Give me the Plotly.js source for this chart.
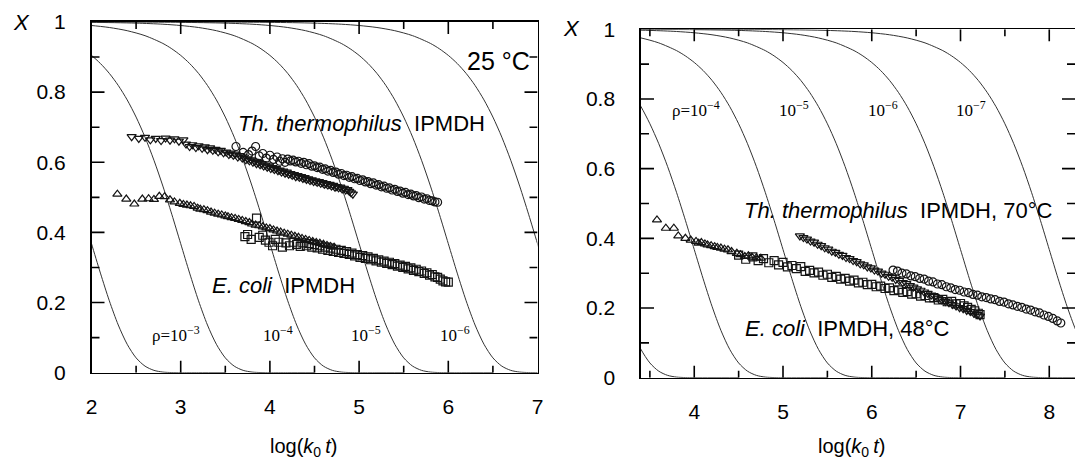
<!DOCTYPE html>
<html>
<head>
<meta charset="utf-8">
<script src="https://cdn.plot.ly/plotly-3.0.1.min.js"></script>
<style>
html,body{margin:0;padding:0;background:#fff;}
#chart{width:1075px;height:463px;}
</style>
</head>
<body>
<div id="chart"></div>
<script>
// ---------- theoretical curve shape: X vs d = log(k0 t) + log(rho) ----------
const curveD = [-4,-3.5,-3,-2.5,-2.2,-2,-1.8,-1.6,-1.4,-1.2,-1.1,-1.0,-0.9,-0.8,-0.7,-0.6,-0.5,-0.4,-0.3,-0.2,-0.1,0,0.1,0.2,0.3,0.4,0.5,0.6,0.7,0.8,0.9,1.0,1.2,1.5];
const curveX = [0.9999,0.9997,0.9990,0.9968,0.9937,0.9900,0.9843,0.9752,0.9610,0.9389,0.9236,0.9048,0.8817,0.8534,0.8191,0.7779,0.7289,0.6716,0.6058,0.5321,0.4519,0.3679,0.2840,0.2050,0.1360,0.0811,0.0423,0.0187,0.0067,0.0018,0.0004,0.0000,0,0];
const logRhoLeft  = [-2,-3,-4,-5,-6,-7];
const logRhoRight = [-3,-4,-5,-6,-7,-8];

// ---------- left panel (25 °C) ----------
const thA_u = [2.45,2.53,2.60,2.66,2.72,2.78,2.83,2.88,2.93,2.98,3.03,3.06,3.10,3.13,3.17,3.20,3.24,3.27,3.30,3.33,3.36,3.39,3.42,3.45,3.48,3.51,3.54,3.56,3.59,3.61,3.64,3.66,3.69,3.71,3.73,3.75,3.77,3.79,3.81,3.83,3.85,3.87,3.89,3.91,3.93,3.95,3.97,3.99,4.01,4.03,4.05,4.07,4.09,4.11,4.13,4.15,4.17,4.19,4.21,4.23,4.25,4.27,4.29,4.31,4.33,4.35,4.37,4.39,4.41,4.43,4.45,4.47,4.49,4.51,4.53,4.55,4.57,4.59,4.61,4.63,4.65,4.67,4.69,4.71,4.73,4.75,4.77,4.79,4.81,4.83,4.85,4.87,4.89,4.91,4.93];
const thA_x = [0.673,0.668,0.671,0.664,0.668,0.662,0.669,0.663,0.667,0.660,0.664,0.652,0.645,0.650,0.642,0.647,0.640,0.644,0.636,0.641,0.634,0.637,0.630,0.634,0.627,0.629,0.622,0.626,0.620,0.623,0.615,0.619,0.612,0.615,0.607,0.610,0.604,0.607,0.600,0.603,0.596,0.599,0.593,0.596,0.589,0.592,0.586,0.589,0.582,0.585,0.579,0.582,0.576,0.578,0.572,0.575,0.569,0.572,0.566,0.568,0.563,0.565,0.559,0.562,0.557,0.559,0.554,0.556,0.551,0.553,0.548,0.550,0.545,0.547,0.543,0.545,0.540,0.542,0.537,0.539,0.535,0.537,0.532,0.534,0.529,0.531,0.527,0.529,0.524,0.526,0.521,0.522,0.517,0.513,0.509];
const thB_u = [3.62,3.70,3.76,3.80,3.84,3.88,3.92,3.96,4.00,4.04,4.08,4.11,4.14,4.17,4.20,4.23,4.26,4.29,4.32,4.35,4.38,4.41,4.44,4.47,4.50,4.53,4.56,4.59,4.62,4.65,4.68,4.71,4.74,4.77,4.80,4.83,4.86,4.89,4.92,4.95,4.98,5.01,5.04,5.07,5.10,5.13,5.16,5.19,5.22,5.25,5.28,5.31,5.34,5.37,5.40,5.43,5.46,5.49,5.52,5.55,5.58,5.61,5.64,5.67,5.70,5.73,5.76,5.79,5.82,5.85,5.88];
const thB_x = [0.645,0.628,0.622,0.632,0.645,0.618,0.625,0.612,0.620,0.608,0.615,0.603,0.610,0.600,0.609,0.604,0.606,0.601,0.603,0.597,0.600,0.593,0.596,0.589,0.590,0.585,0.586,0.580,0.581,0.575,0.577,0.571,0.572,0.566,0.568,0.562,0.563,0.557,0.559,0.553,0.554,0.548,0.550,0.544,0.545,0.539,0.541,0.535,0.536,0.530,0.532,0.526,0.527,0.521,0.523,0.517,0.518,0.512,0.514,0.508,0.509,0.504,0.505,0.499,0.501,0.495,0.496,0.491,0.490,0.487,0.486];
const ecA_u = [2.29,2.39,2.48,2.57,2.64,2.70,2.76,2.82,2.88,2.93,2.99,3.03,3.07,3.11,3.15,3.19,3.22,3.26,3.30,3.34,3.38,3.42,3.46,3.50,3.53,3.57,3.61,3.65,3.69,3.73,3.77,3.80,3.84,3.88,3.92,3.96,4.00,4.04,4.08,4.12,4.16,4.20,4.24,4.28,4.32,4.36,4.40,4.44,4.48,4.52,4.56,4.60,4.64,4.68,4.72];
const ecA_x = [0.509,0.495,0.481,0.495,0.496,0.494,0.503,0.502,0.493,0.487,0.483,0.480,0.478,0.476,0.474,0.469,0.466,0.465,0.462,0.458,0.455,0.452,0.450,0.447,0.445,0.442,0.440,0.437,0.434,0.431,0.428,0.424,0.421,0.419,0.416,0.413,0.411,0.407,0.404,0.401,0.398,0.395,0.392,0.389,0.386,0.383,0.380,0.377,0.374,0.371,0.369,0.366,0.363,0.360,0.358];
const ecB_u = [3.72,3.75,3.79,3.85,3.88,3.92,3.95,3.99,4.03,4.06,4.10,4.14,4.18,4.22,4.26,4.30,4.34,4.37,4.41,4.44,4.47,4.50,4.53,4.56,4.59,4.62,4.65,4.68,4.71,4.74,4.77,4.80,4.83,4.86,4.89,4.92,4.95,4.98,5.01,5.04,5.07,5.10,5.13,5.16,5.19,5.22,5.25,5.28,5.31,5.34,5.37,5.40,5.43,5.46,5.49,5.52,5.55,5.58,5.61,5.64,5.67,5.70,5.73,5.76,5.79,5.82,5.85,5.88,5.91,5.94,5.97,6.00];
const ecB_x = [0.388,0.394,0.380,0.441,0.386,0.392,0.378,0.372,0.362,0.380,0.372,0.358,0.370,0.362,0.372,0.366,0.360,0.370,0.362,0.368,0.358,0.365,0.356,0.362,0.352,0.358,0.349,0.355,0.346,0.352,0.343,0.349,0.340,0.345,0.337,0.341,0.333,0.337,0.329,0.334,0.326,0.330,0.322,0.326,0.319,0.322,0.315,0.318,0.312,0.315,0.308,0.311,0.304,0.307,0.300,0.303,0.296,0.299,0.292,0.295,0.288,0.290,0.283,0.285,0.278,0.280,0.273,0.272,0.267,0.262,0.259,0.258];

// ---------- right panel ----------
const ecC_u = [3.58,3.68,3.77,3.82,3.90,3.96,4.02,4.05,4.08,4.12,4.15,4.19,4.23,4.26,4.30,4.34,4.38,4.42,4.48,4.52,4.57,4.61,4.65,4.70,4.75];
const ecC_x = [0.453,0.429,0.429,0.407,0.400,0.395,0.391,0.386,0.388,0.384,0.381,0.379,0.376,0.374,0.372,0.369,0.367,0.362,0.357,0.353,0.348,0.350,0.346,0.344,0.343];
const ecD_u = [4.50,4.58,4.66,4.72,4.78,4.84,4.90,4.95,5.00,5.05,5.10,5.15,5.20,5.25,5.30,5.35,5.40,5.45,5.50,5.55,5.60,5.65,5.70,5.75,5.80,5.85,5.90,5.95,6.00,6.05,6.10,6.15,6.20,6.25,6.30,6.35,6.40,6.45,6.50,6.55,6.60,6.65,6.70,6.75,6.80,6.85,6.90,6.95,7.00,7.04,7.08,7.12,7.16,7.20,7.22];
const ecD_x = [0.352,0.340,0.347,0.336,0.342,0.330,0.336,0.324,0.331,0.318,0.322,0.313,0.319,0.305,0.308,0.301,0.303,0.294,0.297,0.288,0.291,0.283,0.285,0.277,0.280,0.272,0.274,0.267,0.268,0.261,0.263,0.256,0.258,0.250,0.252,0.245,0.247,0.240,0.241,0.234,0.236,0.229,0.230,0.223,0.225,0.218,0.219,0.212,0.213,0.206,0.202,0.196,0.192,0.185,0.181];
const thC_u = [5.19,5.23,5.27,5.31,5.35,5.39,5.43,5.47,5.51,5.55,5.59,5.63,5.67,5.71,5.75,5.79,5.83,5.87,5.91,5.95,5.99,6.03,6.07,6.11,6.15,6.19,6.23,6.27,6.31,6.35,6.39,6.43,6.47,6.51,6.55,6.59,6.63,6.67,6.71,6.75,6.79,6.83,6.87,6.91,6.95,6.99,7.03,7.07,7.11,7.15,7.19,7.22];
const thC_x = [0.407,0.402,0.398,0.392,0.389,0.383,0.379,0.373,0.369,0.363,0.360,0.354,0.351,0.345,0.342,0.336,0.333,0.327,0.324,0.318,0.315,0.309,0.306,0.300,0.297,0.291,0.288,0.282,0.279,0.273,0.270,0.264,0.260,0.255,0.251,0.246,0.242,0.237,0.233,0.228,0.224,0.219,0.215,0.210,0.206,0.201,0.198,0.193,0.190,0.185,0.181,0.177];
const thD_u = [6.24,6.29,6.34,6.39,6.44,6.49,6.54,6.59,6.64,6.69,6.74,6.79,6.84,6.89,6.94,6.99,7.04,7.09,7.14,7.19,7.24,7.29,7.34,7.39,7.44,7.49,7.54,7.59,7.64,7.69,7.74,7.79,7.84,7.89,7.94,7.99,8.04,8.09,8.13];
const thD_x = [0.309,0.306,0.300,0.298,0.292,0.290,0.285,0.283,0.277,0.275,0.269,0.267,0.261,0.258,0.253,0.251,0.246,0.244,0.239,0.237,0.232,0.230,0.226,0.224,0.219,0.217,0.212,0.209,0.205,0.202,0.197,0.194,0.189,0.186,0.180,0.176,0.170,0.163,0.157];

// ---------- tick values and labels ----------
const xMajorLeft  = [2,3,4,5,6,7];
const xMajorRight = [4,5,6,7,8];
const xMinorLeft  = [2.5,3.5,4.5,5.5,6.5];
const xMinorRight = [3.5,4.5,5.5,6.5,7.5];
const yMajor = [0,0.2,0.4,0.6,0.8,1];
const yMajorText = ['0','0.2','0.4','0.6','0.8','1'];
const yMinor = [0.1,0.3,0.5,0.7,0.9];
const rhoLabelsLeft  = ['ρ=10<sup>−3</sup>','10<sup>−4</sup>','10<sup>−5</sup>','10<sup>−6</sup>'];
const rhoLabelsLeftU = [2.66,3.90,4.89,5.88];
const rhoLabelsRight  = ['ρ=10<sup>−4</sup>','10<sup>−5</sup>','10<sup>−6</sup>','10<sup>−7</sup>'];
const rhoLabelsRightU = [3.73,4.93,5.93,6.93];

// ===================================================================
const W = 1075, H = 463;
const INK = '#141414';
const traces = [];

function addCurves(logRhos, xa, ya){
  logRhos.forEach(lr => {
    traces.push({
      x: curveD.map(d => d - lr), y: curveX, xaxis: xa, yaxis: ya,
      mode: 'lines', line: {color: '#333', width: 1, shape: 'spline', smoothing: 0.8},
      hoverinfo: 'skip', showlegend: false
    });
  });
}
addCurves(logRhoLeft, 'x', 'y');
addCurves(logRhoRight, 'x2', 'y2');

function addPts(u, x, sym, xa, ya){
  traces.push({
    x: u, y: x, xaxis: xa, yaxis: ya, mode: 'markers', showlegend: false,
    marker: {symbol: sym, size: 8, color: INK, line: {color: INK, width: 1.2}}
  });
}
addPts(thA_u, thA_x, 'triangle-down-open', 'x', 'y');
addPts(thB_u, thB_x, 'circle-open', 'x', 'y');
addPts(ecA_u, ecA_x, 'triangle-up-open', 'x', 'y');
addPts(ecB_u, ecB_x, 'square-open', 'x', 'y');
addPts(ecC_u, ecC_x, 'triangle-up-open', 'x2', 'y2');
addPts(ecD_u, ecD_x, 'square-open', 'x2', 'y2');
addPts(thC_u, thC_x, 'triangle-down-open', 'x2', 'y2');
addPts(thD_u, thD_x, 'circle-open', 'x2', 'y2');

// ---------- panel geometry (pixels) ----------
const PL = {x0: 91.5, x1: 537.5, yTop: 22, yBot: 372.7, range: [2, 7]};
const PR = {x0: 641, x1: 1075, yTop: 29.3, yBot: 377.7, range: [3.40, 8.29]};

const tickFont = {family: 'Liberation Sans, Arial, sans-serif', size: 21, color: '#000'};
function xMain(P, anchor, vals){
  return {range: P.range, domain: [P.x0/W, P.x1/W], anchor: anchor, showgrid: false, zeroline: false,
    tickmode: 'array', tickvals: vals, ticktext: vals.map(String), ticks: '',
    showline: true, linecolor: '#000', linewidth: 1.7, mirror: true,
    tickfont: tickFont, ticklabelstandoff: 14, fixedrange: true};
}
function yMain(P, anchor){
  return {range: [0, 1], domain: [1 - P.yBot/H, 1 - P.yTop/H], anchor: anchor, showgrid: false, zeroline: false,
    tickmode: 'array', tickvals: yMajor, ticktext: yMajorText, ticks: '',
    showline: true, linecolor: '#000', linewidth: 1.7, mirror: true,
    tickfont: tickFont, ticklabelstandoff: 20, fixedrange: true};
}

// ---------- inward tick marks on all four sides ----------
const shapes = [];
const tickLine = {color: '#000', width: 1.6};
function ticksFor(P, xref, yref, xMaj, xMin, yMaj, yMin){
  const pxPerX = (P.x1 - P.x0) / (P.range[1] - P.range[0]);
  const pxPerY = (P.yBot - P.yTop);
  const addX = (v, len) => {
    const dy = len / pxPerY;
    shapes.push({type: 'line', xref: xref, yref: yref, x0: v, x1: v, y0: 0, y1: dy, line: tickLine, layer: 'above'});
    shapes.push({type: 'line', xref: xref, yref: yref, x0: v, x1: v, y0: 1, y1: 1 - dy, line: tickLine, layer: 'above'});
  };
  const addY = (v, len) => {
    const dx = len / pxPerX;
    shapes.push({type: 'line', xref: xref, yref: yref, x0: P.range[0], x1: P.range[0] + dx, y0: v, y1: v, line: tickLine, layer: 'above'});
    shapes.push({type: 'line', xref: xref, yref: yref, x0: P.range[1], x1: P.range[1] - dx, y0: v, y1: v, line: tickLine, layer: 'above'});
  };
  xMaj.filter(v => v > P.range[0] && v < P.range[1]).forEach(v => addX(v, 12));
  xMin.forEach(v => addX(v, 7));
  yMaj.filter(v => v > 0 && v < 1).forEach(v => addY(v, 13));
  yMin.forEach(v => addY(v, 8));
}
ticksFor(PL, 'x', 'y', xMajorLeft, xMinorLeft, yMajor, yMinor);
ticksFor(PR, 'x2', 'y2', xMajorRight, xMinorRight, yMajor, yMinor);

const annFont = {family: 'Liberation Sans, Arial, sans-serif', size: 22, color: '#000'};
const serifFont = {family: 'Liberation Serif, Times New Roman, serif', size: 17, color: '#000'};
const anns = [];
function txt(x, y, text, xref, yref, font, xanchor){
  anns.push({x: x, y: y, xref: xref, yref: yref, text: text, showarrow: false,
    font: font, xanchor: xanchor || 'left', yanchor: 'middle'});
}
txt(3.62, 0.711, '<i>Th. thermophilus</i>\u00a0\u00a0IPMDH', 'x', 'y', annFont);
txt(3.33, 0.25, '<i>E. coli</i>\u00a0\u00a0IPMDH', 'x', 'y', annFont);
txt(6.19, 0.89, '25 °C', 'x', 'y', {family: annFont.family, size: 25, color: '#000'});
rhoLabelsLeft.forEach((t, i) => txt(rhoLabelsLeftU[i], 0.11, t, 'x', 'y', serifFont));
txt(4.54, 0.481, '<i>Th. thermophilus</i>\u00a0\u00a0IPMDH, 70°C', 'x2', 'y2', annFont);
txt(4.55, 0.14, '<i>E. coli</i>\u00a0\u00a0IPMDH, 48°C', 'x2', 'y2', annFont);
rhoLabelsRight.forEach((t, i) => txt(rhoLabelsRightU[i], 0.77, t, 'x2', 'y2', serifFont));
txt(22/W, 1 - 22.5/H, '<i>X</i>', 'paper', 'paper', annFont, 'center');
txt(571/W, 1 - 28/H, '<i>X</i>', 'paper', 'paper', annFont, 'center');
const titleFont = {family: 'Liberation Sans, Arial, sans-serif', size: 20, color: '#000'};
txt(303/W, 1 - 447/H, 'log(<i>k</i><sub>0</sub>\u2009<i>t</i>)', 'paper', 'paper', titleFont, 'center');
txt(851/W, 1 - 447/H, 'log(<i>k</i><sub>0</sub>\u2009<i>t</i>)', 'paper', 'paper', titleFont, 'center');

const layout = {
  width: W, height: H, margin: {l: 0, r: 0, t: 0, b: 0},
  paper_bgcolor: '#fff', plot_bgcolor: 'rgba(0,0,0,0)', showlegend: false,
  xaxis:  xMain(PL, 'y', xMajorLeft),
  yaxis:  yMain(PL, 'x'),
  xaxis2: xMain(PR, 'y2', xMajorRight),
  yaxis2: yMain(PR, 'x2'),
  shapes: shapes,
  annotations: anns
};
Plotly.newPlot('chart', traces, layout, {staticPlot: true, displayModeBar: false});
</script>
</body>
</html>
